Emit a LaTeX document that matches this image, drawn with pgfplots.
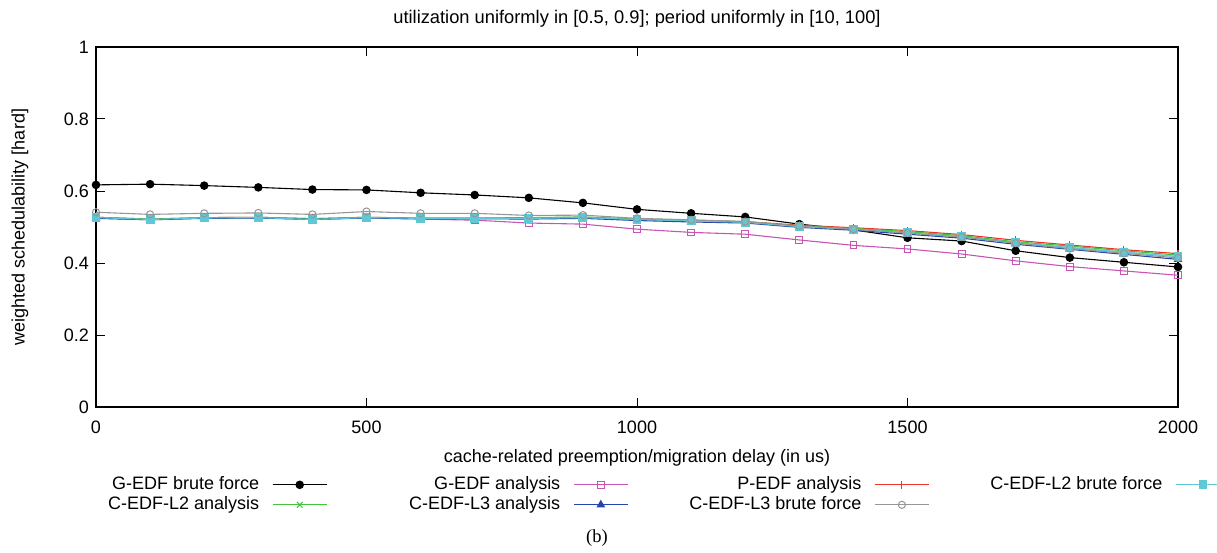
\documentclass[border=0pt]{standalone}
\usepackage{fontspec}
\setmainfont{Liberation Sans}
\newfontfamily\seriffont{Liberation Serif}
\usepackage{pgfplots}
\pgfplotsset{compat=1.18}
\usepackage{pgfplotstable}
\definecolor{cmag}{RGB}{200,85,180}
\definecolor{cred}{RGB}{240,50,40}
\definecolor{ccyan}{RGB}{95,200,212}
\definecolor{cgreen}{RGB}{70,195,60}
\definecolor{cblue}{RGB}{40,70,170}
\definecolor{cgray}{RGB}{150,150,150}
\pgfplotstableread{
x gb ga pa lb la ta tb
0 0.617 0.525 0.527 0.526 0.527 0.524 0.541
100 0.619 0.520 0.522 0.521 0.522 0.520 0.535
200 0.615 0.525 0.526 0.525 0.526 0.524 0.538
300 0.610 0.525 0.527 0.526 0.527 0.525 0.539
400 0.604 0.522 0.523 0.521 0.523 0.521 0.535
500 0.603 0.525 0.527 0.526 0.527 0.525 0.543
600 0.595 0.522 0.524 0.524 0.525 0.523 0.538
700 0.589 0.519 0.524 0.524 0.525 0.523 0.538
800 0.581 0.511 0.525 0.524 0.526 0.522 0.532
900 0.567 0.508 0.527 0.526 0.528 0.524 0.533
1000 0.549 0.494 0.521 0.521 0.522 0.518 0.524
1100 0.538 0.485 0.518 0.517 0.519 0.514 0.520
1200 0.528 0.480 0.515 0.513 0.515 0.511 0.515
1300 0.508 0.464 0.505 0.501 0.503 0.499 0.503
1400 0.492 0.449 0.498 0.494 0.496 0.491 0.494
1500 0.470 0.439 0.490 0.484 0.487 0.480 0.483
1600 0.461 0.425 0.479 0.473 0.476 0.469 0.472
1700 0.434 0.406 0.463 0.456 0.459 0.452 0.455
1800 0.415 0.390 0.450 0.443 0.447 0.438 0.440
1900 0.402 0.378 0.437 0.430 0.434 0.424 0.427
2000 0.389 0.366 0.426 0.418 0.422 0.410 0.414
}\datatable
\begin{document}
\fontsize{18}{21}\selectfont
\begin{tikzpicture}
\useasboundingbox (-96pt,-145pt) rectangle (1121pt,407pt);
\begin{axis}[
  at={(0pt,0pt)}, anchor=south west,
  scale only axis, width=1082pt, height=360pt,
  xmin=0, xmax=2000, ymin=0, ymax=1,
  xtick={0,500,1000,1500,2000},
  xticklabels={0,500,1000,1500,2000},
  ytick={0,0.2,0.4,0.6,0.8,1},
  yticklabels={0,0.2,0.4,0.6,0.8,1},
  /pgf/number format/assume math mode=true,
  tick align=inside, major tick length=9pt,
  tick style={black, line width=1pt},
  axis line style={line width=1.3pt},
  every tick label/.append style={font=\fontsize{18}{21}\selectfont},
  xticklabel style={yshift=-8pt},
  yticklabel style={xshift=-1pt},
  xlabel={cache-related preemption/migration delay (in us)},
  ylabel={weighted schedulability [hard]},
  xlabel style={yshift=-3pt},
  ylabel style={at={(axis description cs:-0.0702,0.5)}, anchor=center},
  label style={font=\fontsize{18}{21}\selectfont},
  title={utilization uniformly in [0.5, 0.9]; period uniformly in [10, 100]},
  title style={font=\fontsize{18.3}{21}\selectfont, yshift=8pt},
  legend columns=4,
  legend plot pos=right,
  legend style={at={(-0.0527,-0.192)}, anchor=north west, draw=none, fill=none,
    inner sep=0pt, column sep=13pt, row sep=3pt,
    font=\fontsize{18}{21}\selectfont,
    nodes={inner xsep=0pt, inner ysep=0pt, text height=13pt, text depth=4pt}},
  legend image code/.code={\draw[mark repeat=2,mark phase=2,#1] plot coordinates {(0pt,0pt) (27pt,0pt) (54pt,0pt)};},
  every axis plot/.append style={line width=1.1pt},
]
\addplot[black, mark=*, mark size=3.7pt] table[x=x,y=gb] {\datatable};
\addlegendentry{\makebox[220pt][r]{G-EDF brute force}}
\addplot[cmag, mark=square, mark size=3.4pt, mark options={line width=1pt}] table[x=x,y=ga] {\datatable};
\addlegendentry{\makebox[220pt][r]{G-EDF analysis}}
\addplot[cred, mark=+, mark size=4pt] table[x=x,y=pa] {\datatable};
\addlegendentry{\makebox[220pt][r]{P-EDF analysis}}
\addplot[ccyan, mark=square*, mark size=3.9pt] table[x=x,y=lb] {\datatable};
\addlegendentry{\makebox[220pt][r]{C-EDF-L2 brute force}}
\addplot[cgreen, mark=x, mark size=4pt] table[x=x,y=la] {\datatable};
\addlegendentry{\makebox[220pt][r]{C-EDF-L2 analysis}}
\addplot[cblue, mark=triangle*, mark size=4pt] table[x=x,y=ta] {\datatable};
\addlegendentry{\makebox[220pt][r]{C-EDF-L3 analysis}}
\addplot[ccyan, mark=square*, mark size=3.9pt, forget plot] table[x=x,y=lb] {\datatable};
\addplot[cgray, mark=o, mark size=3.6pt, mark options={line width=1pt}] table[x=x,y=tb] {\datatable};
\addlegendentry{\makebox[220pt][r]{C-EDF-L3 brute force}}
\end{axis}
\node[font=\seriffont\fontsize{18.5}{21}\selectfont] at (501pt,-131pt) {(b)};
\end{tikzpicture}
\end{document}
